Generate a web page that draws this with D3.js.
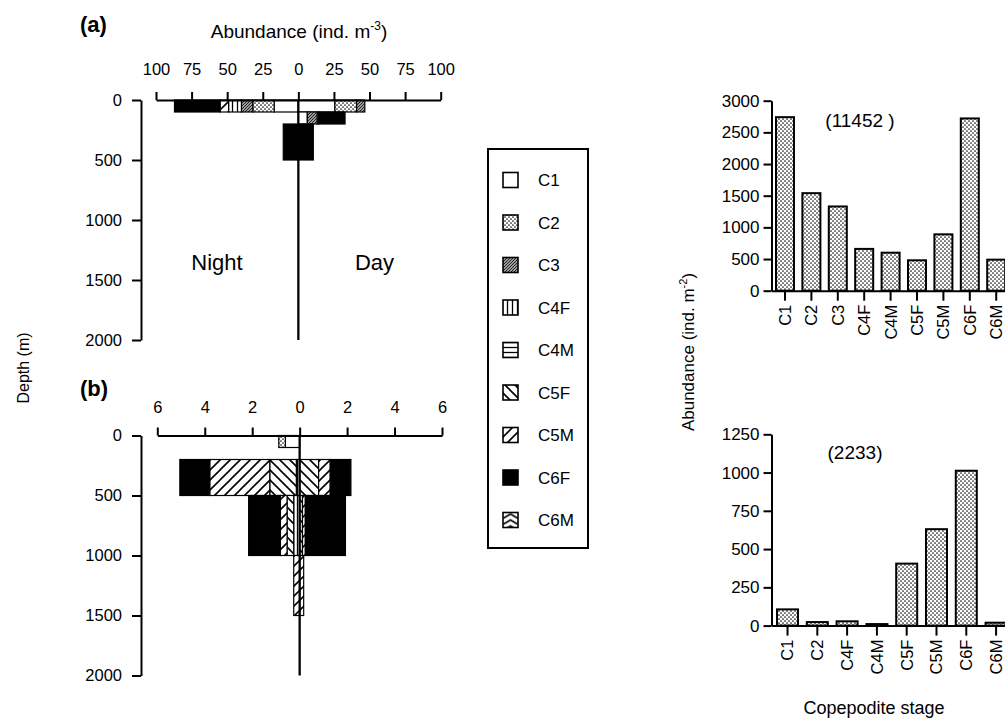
<!DOCTYPE html>
<html>
<head>
<meta charset="utf-8">
<script src="https://cdn.jsdelivr.net/npm/d3@7"></script>
<style>
  body { margin: 0; background: #fff; }
  svg { font-family: "Liberation Sans", Arial, Helvetica, sans-serif; }
</style>
</head>
<body>
<svg id="fig" width="1005" height="724"></svg>
<script>
// copepodite stages, in stacking order (centre outward)
const stages = ["C1", "C2", "C3", "C4F", "C4M", "C5F", "C5M", "C6F", "C6M"];
const depthBins = [[0, 100], [100, 200], [200, 500], [500, 1000], [1000, 1500], [1500, 2000]];
const depthTicks = [0, 500, 1000, 1500, 2000];

// (a) abundance ind. m-3, one row per depth bin, one column per stage
const nightA = [
  [17, 15, 8, 9, 0, 0, 6, 32, 0],
  [0, 0, 0, 0, 0, 0, 0, 0, 0],
  [0, 0, 0, 0, 0, 0, 0, 10.6, 0],
  [0, 0, 0, 0, 0, 0, 0, 0, 0],
  [0, 0, 0, 0, 0, 0, 0, 0, 0],
  [0, 0, 0, 0, 0, 0, 0, 0, 0]
];
const dayA = [
  [25.7, 15.2, 5.8, 0, 0, 0, 0, 0, 0],
  [6.3, 0, 7, 0, 0, 0, 1, 18.5, 0],
  [0, 0, 0, 0, 0, 0, 0, 10.5, 0],
  [0, 0, 0, 0, 0, 0, 0, 0, 0],
  [0, 0, 0, 0, 0, 0, 0, 0, 0],
  [0, 0, 0, 0, 0, 0, 0, 0, 0]
];
const ticksA = [-100, -75, -50, -25, 0, 25, 50, 75, 100];

// (b)
const nightB = [
  [0.6, 0.28, 0, 0, 0, 0, 0, 0, 0],
  [0, 0, 0, 0, 0, 0, 0, 0, 0],
  [0, 0, 0, 0.14, 0, 1.12, 2.53, 1.26, 0],
  [0, 0, 0, 0.25, 0, 0.28, 0.28, 1.34, 0],
  [0, 0, 0, 0, 0, 0, 0.25, 0, 0],
  [0, 0, 0, 0, 0, 0, 0, 0, 0]
];
const dayB = [
  [0, 0, 0, 0, 0, 0, 0, 0, 0],
  [0, 0, 0, 0, 0, 0, 0, 0, 0],
  [0, 0, 0, 0, 0, 0.8, 0.49, 0.87, 0],
  [0, 0, 0, 0, 0, 0.12, 0.12, 1.69, 0],
  [0, 0, 0, 0, 0, 0, 0.17, 0, 0],
  [0, 0, 0, 0, 0, 0, 0, 0, 0]
];
const ticksB = [-6, -4, -2, 0, 2, 4, 6];

// integrated abundance ind. m-2
const topStages = stages;
const topValues = [2740, 1540, 1330, 660, 600, 480, 890, 2720, 490];
const topTicks = [0, 500, 1000, 1500, 2000, 2500, 3000];
const bottomStages = ["C1", "C2", "C4F", "C4M", "C5F", "C5M", "C6F", "C6M"];
const bottomValues = [106, 23, 28, 10, 405, 630, 1012, 19];
const bottomTicks = [0, 250, 500, 750, 1000, 1250];

const svg = d3.select("#fig");
const defs = svg.append("defs");

// legend item centres
const legY = d3.scalePoint().domain(stages).range([180, 520]);

function pattern(id, w, h, draw, ox = 0, oy = 0) {
  const p = defs.append("pattern").attr("id", id)
    .attr("patternUnits", "userSpaceOnUse").attr("width", w).attr("height", h)
    .attr("x", ox).attr("y", oy);
  p.append("rect").attr("width", w).attr("height", h).attr("fill", "#fff");
  draw(p);
}
pattern("pC2", 4, 4, p => {
  p.append("circle").attr("cx", 1).attr("cy", 1).attr("r", 0.85).attr("fill", "#111");
  p.append("circle").attr("cx", 3).attr("cy", 3).attr("r", 0.85).attr("fill", "#111");
});
pattern("pC3", 3, 3, p => p.append("path").attr("d", "M0,3L3,0M-1,1L1,-1M2,4L4,2")
  .attr("stroke", "#222").attr("stroke-width", 1.3));
pattern("pC4F", 5, 5, p => p.append("path").attr("d", "M2.5,0V5").attr("stroke", "#000").attr("stroke-width", 1.3));
pattern("pC4M", 5, 5, p => p.append("path").attr("d", "M0,2.5H5").attr("stroke", "#000").attr("stroke-width", 1.3));
pattern("pC5F", 10, 10, p => p.append("path").attr("d", "M0,0L10,10M-5,5L5,15M5,-5L15,5")
  .attr("stroke", "#000").attr("stroke-width", 1.6));
pattern("pC5M", 10, 10, p => p.append("path").attr("d", "M0,10L10,0M-5,5L5,-5M5,15L15,5")
  .attr("stroke", "#000").attr("stroke-width", 1.6));
pattern("pC6M", 15, 6, p => p.append("path").attr("d", "M0,6L7.5,1.5L15,6").attr("fill", "none")
  .attr("stroke", "#000").attr("stroke-width", 1.6), 503, legY("C6M") - 7.5);

const fills = {
  C1: "#fff", C2: "url(#pC2)", C3: "url(#pC3)", C4F: "url(#pC4F)", C4M: "url(#pC4M)",
  C5F: "url(#pC5F)", C5M: "url(#pC5M)", C6F: "#000", C6M: "url(#pC6M)"
};

function styleAxis(g, size) {
  g.attr("font-family", null).attr("font-size", size);
  g.selectAll("path, line").attr("stroke", "#000").attr("stroke-width", 2);
  g.selectAll("text").attr("fill", "#000");
}

function drawProfile(night, day, o) {
  const x = d3.scaleLinear().domain([-o.max, o.max]).range([o.x0, o.x1]);
  const y = d3.scaleLinear().domain([0, 2000]).range([o.y0, o.y0 + 240]);
  const g = svg.append("g");

  const segs = [];
  [[night, -1], [day, 1]].forEach(([rows, s]) => {
    rows.forEach((vals, i) => {
      let c = 0;
      vals.forEach((v, k) => {
        if (v > 0) segs.push({ stage: stages[k], d0: depthBins[i][0], d1: depthBins[i][1], a: s * c, b: s * (c + v) });
        c += v;
      });
    });
  });
  g.selectAll("rect.seg").data(segs).join("rect")
    .attr("class", "seg")
    .attr("x", d => x(Math.min(d.a, d.b)))
    .attr("width", d => Math.abs(x(d.b) - x(d.a)))
    .attr("y", d => y(d.d0))
    .attr("height", d => y(d.d1) - y(d.d0))
    .attr("fill", d => fills[d.stage])
    .attr("stroke", "#000").attr("stroke-width", 1.2);

  g.append("line")
    .attr("x1", x(0)).attr("x2", x(0)).attr("y1", y(0)).attr("y2", y(2000))
    .attr("stroke", "#000").attr("stroke-width", 2.3);

  g.append("g").attr("transform", `translate(0,${o.y0})`)
    .call(d3.axisTop(x).tickValues(o.ticks).tickFormat(d => Math.abs(d))
      .tickSize(8).tickSizeOuter(0).tickPadding(o.pad))
    .call(a => styleAxis(a, 16.5));

  g.append("g").attr("transform", `translate(${o.ax},0)`)
    .call(d3.axisLeft(y).tickValues(depthTicks).tickFormat(d3.format("d"))
      .tickSize(9).tickSizeOuter(0).tickPadding(10))
    .call(a => styleAxis(a, 16.5));
  return g;
}

drawProfile(nightA, dayA, { max: 100, x0: 156, x1: 440.7, y0: 100, ticks: ticksA, pad: 17, ax: 141 });
drawProfile(nightB, dayB, { max: 6, x0: 157.3, x1: 442, y0: 435.5, ticks: ticksB, pad: 15, ax: 141 });

// panel labels and titles
svg.append("text").attr("x", 80).attr("y", 32).attr("font-size", 22).attr("font-weight", "bold").text("(a)");
svg.append("text").attr("x", 80).attr("y", 396).attr("font-size", 22).attr("font-weight", "bold").text("(b)");
const titleA = svg.append("text").attr("x", 299).attr("y", 38).attr("font-size", 19).attr("text-anchor", "middle");
titleA.append("tspan").text("Abundance (ind. m");
titleA.append("tspan").attr("font-size", 12).attr("dy", -8).text("-3");
titleA.append("tspan").attr("dy", 8).text(")");
svg.append("text").attr("x", 217).attr("y", 270).attr("font-size", 22).attr("text-anchor", "middle").text("Night");
svg.append("text").attr("x", 374.5).attr("y", 270).attr("font-size", 22).attr("text-anchor", "middle").text("Day");
svg.append("text").attr("transform", "translate(29,368) rotate(-90)")
  .attr("font-size", 16).attr("text-anchor", "middle").text("Depth (m)");

// legend
const leg = svg.append("g");
leg.append("rect").attr("x", 488).attr("y", 149).attr("width", 100).attr("height", 399)
  .attr("fill", "none").attr("stroke", "#000").attr("stroke-width", 2);
const item = leg.selectAll("g.item").data(stages).join("g").attr("class", "item")
  .attr("transform", d => `translate(503,${legY(d)})`);
item.append("rect").attr("x", 0).attr("y", -7.5).attr("width", 15).attr("height", 15)
  .attr("transform", d => `translate(${-503},${-legY(d)})`)
  .attr("x", 503).attr("y", d => legY(d) - 7.5)
  .attr("fill", d => fills[d]).attr("stroke", "#000").attr("stroke-width", 1.6);
item.append("text").attr("x", 35).attr("dy", "0.36em").attr("font-size", 17).text(d => d);

// integrated bar charts
function drawBars(cats, vals, ticks, o) {
  const x = d3.scaleBand().domain(cats).range([o.x0, o.x1]).paddingInner(o.pi).paddingOuter(o.po);
  const y = d3.scaleLinear().domain([0, o.max]).range([o.yb, o.yt]);
  const g = svg.append("g");
  g.selectAll("rect").data(cats).join("rect")
    .attr("x", d => x(d)).attr("width", x.bandwidth())
    .attr("y", (d, i) => y(vals[i])).attr("height", (d, i) => y(0) - y(vals[i]))
    .attr("fill", fills.C2).attr("stroke", "#000").attr("stroke-width", 2);
  g.append("g").attr("transform", `translate(${o.x0},0)`)
    .call(d3.axisLeft(y).tickValues(ticks).tickFormat(d3.format("d"))
      .tickSize(8).tickSizeOuter(0).tickPadding(4))
    .call(a => styleAxis(a, 17));
  g.append("g").attr("transform", `translate(0,${o.yb})`)
    .call(d3.axisBottom(x).tickSize(10).tickSizeOuter(0))
    .call(a => styleAxis(a, 16.5))
    .call(a => a.selectAll(".tick text")
      .attr("transform", "rotate(-90)").attr("x", -14).attr("y", 0)
      .attr("dy", "0.36em").attr("text-anchor", "end"));
  g.append("text").attr("x", o.lx).attr("y", o.ly).attr("font-size", 19)
    .attr("text-anchor", "middle").text(o.label);
}

drawBars(topStages, topValues, topTicks,
  { x0: 771.5, x1: 1009.7, pi: 0.318, po: 0.17, max: 3000, yb: 290.7, yt: 100.7, lx: 860, ly: 127, label: "(11452 )" });
drawBars(bottomStages, bottomValues, bottomTicks,
  { x0: 771.5, x1: 1012.1, pi: 0.295, po: 0.185, max: 1250, yb: 625.6, yt: 434.3, lx: 855, ly: 459, label: "(2233)" });

const yl = svg.append("text").attr("transform", "translate(694,352) rotate(-90)")
  .attr("font-size", 17).attr("text-anchor", "middle");
yl.append("tspan").text("Abundance (ind. m");
yl.append("tspan").attr("font-size", 11).attr("dy", -7).text("-2");
yl.append("tspan").attr("dy", 7).text(")");
svg.append("text").attr("x", 874).attr("y", 714).attr("font-size", 18)
  .attr("text-anchor", "middle").text("Copepodite stage");
</script>
</body>
</html>
